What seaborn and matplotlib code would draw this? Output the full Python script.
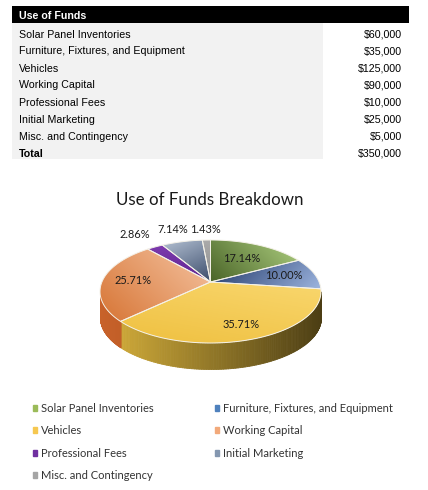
import numpy as np
import matplotlib
matplotlib.use("Agg")
import matplotlib.pyplot as plt
import seaborn as sns
from matplotlib.patches import Rectangle, Polygon
from matplotlib.colors import to_rgb

# data
categories = ["Solar Panel Inventories", "Furniture, Fixtures, and Equipment", "Vehicles",
              "Working Capital", "Professional Fees", "Initial Marketing", "Misc. and Contingency"]
amounts = [60000, 35000, 125000, 90000, 10000, 25000, 5000]
table_title = "Use of Funds"
total_label = "Total"
chart_title = "Use of Funds Breakdown"

# colours (legend / top face light + dark / side light + dark)
base_colors = ["#9BBB59", "#4F81BD", "#F6C850", "#F2A97A", "#7030A0", "#8497B0", "#A5A5A5"]
top_light = ["#AECF80", "#9DB5DF", "#F9D76E", "#F5C4A2", "#7D3AAE", "#B3C0D2", "#ABABAB"]
top_dark = ["#4A6428", "#1E3566", "#EFC040", "#D77535", "#5F2590", "#3B4C6B", "#8F8F8F"]
grad_dir = [45, -45, 80, 45, 90, 115, 90]
side_light = ["#7A963F", "#3A6094", "#D9B23C", "#C8622A", "#5A2380", "#66758A", "#808080"]
side_dark = ["#3E5020", "#1E3050", "#4C3E14", "#8A3E14", "#3A1455", "#3A4455", "#505050"]
label_r = [0.61, 0.70, 0.78, 0.72, 1.45, 1.39, 1.30]

sns.set_theme(style="white")
plt.rcParams["font.family"] = ["Lato", "DejaVu Sans"]

fig = plt.figure(figsize=(4.28, 4.90), dpi=100)
ax = fig.add_axes([0, 0, 1, 1])

# ---- table ----
tfont = dict(family="Liberation Sans", fontsize=7.7, va="center")
ax.add_patch(Rectangle((12, 6), 397, 17, color="black", lw=0))
ax.add_patch(Rectangle((12, 23), 311, 136, color="#F2F2F2", lw=0))
ax.text(19, 16, table_title, color="white", fontweight="bold", **tfont)
rows = list(zip(categories, amounts)) + [(total_label, sum(amounts))]
for i, (cat, amt) in enumerate(rows):
    y = 34.5 + 17 * i
    w = "bold" if cat == total_label else "normal"
    ax.text(19, y, cat, color="black", fontweight=w, **tfont)
    ax.text(402, y, f"${amt:,}", color="black", ha="right", **tfont)

# ---- pie (angles from matplotlib's pie, drawn with a perspective tilt) ----
wedges, _ = ax.pie(amounts, startangle=90, counterclock=False, radius=1, center=(0, 0))
angles = [(w.theta1, w.theta2) for w in wedges]
for w in wedges:
    w.remove()

CX, CY = 210.5, 282.0
A, B, C = 49.75, 0.1845, 108.6
DEPTH = 26


def project(r, th):
    t = np.radians(th)
    x, y = r * np.cos(t), r * np.sin(t)
    d = 1 + B * y
    return CX + C * x / d, CY - A * y / d


# side walls, only the visible front part
s_lo = 180 + np.degrees(np.arcsin(B))
s_hi = 360 - np.degrees(np.arcsin(B))
xl, _ = project(1, s_lo)
xr, _ = project(1, s_hi)
for i, (t1, t2) in enumerate(angles):
    for k in (-1, 0, 1, 2):
        lo, hi = max(t1 + 360 * k, s_lo), min(t2 + 360 * k, s_hi)
        if lo >= hi:
            continue
        th = np.linspace(lo, hi, 120)
        X, Y = project(1, th)
        c0, c1 = np.array(to_rgb(side_light[i])), np.array(to_rgb(side_dark[i]))
        for j in range(len(th) - 1):
            f = ((X[j] + X[j + 1]) / 2 - xl) / (xr - xl)
            col = c0 + (c1 - c0) * np.clip(f, 0, 1)
            ax.fill_between(X[j:j + 2], Y[j:j + 2], Y[j:j + 2] + DEPTH,
                            color=col, lw=0.6, edgecolor=col, zorder=2)

# top faces with a linear gradient
for i, (t1, t2) in enumerate(angles):
    th = np.linspace(t1, t2, 100)
    X, Y = project(1, th)
    verts = np.column_stack([np.r_[CX, X], np.r_[CY, Y]])
    poly = Polygon(verts, closed=True, facecolor="none", edgecolor="#F4F1E8",
                   lw=0.7, zorder=4)
    ax.add_patch(poly)
    x0, x1, y0, y1 = verts[:, 0].min(), verts[:, 0].max(), verts[:, 1].min(), verts[:, 1].max()
    gx, gy = np.meshgrid(np.linspace(x0, x1, 80), np.linspace(y0, y1, 80))
    g = np.radians(grad_dir[i])
    proj = gx * np.cos(g) - gy * np.sin(g)
    f = (proj - proj.min()) / (proj.max() - proj.min() + 1e-9)
    c0, c1 = np.array(to_rgb(top_dark[i])), np.array(to_rgb(top_light[i]))
    img = c0 + (c1 - c0) * f[..., None]
    im = ax.imshow(img, extent=(x0, x1, y1, y0), aspect="auto",
                   interpolation="bilinear", zorder=3)
    im.set_clip_path(poly)

# percentage labels
total = sum(amounts)
for i, (t1, t2) in enumerate(angles):
    lx, ly = project(label_r[i], (t1 + t2) / 2)
    ax.text(lx, ly, f"{100 * amounts[i] / total:.2f}%", ha="center", va="center",
            fontsize=7.9, color="#1A1A1A", zorder=5)

ax.text(210, 200, chart_title, ha="center", va="center", fontsize=12.2, color="#1A1A1A")

ax.set_aspect("auto")
ax.set_xlim(0, 428)
ax.set_ylim(490, 0)
ax.axis("off")

# legend, row-major order like the original
order = [0, 2, 4, 6, 1, 3, 5]
handles = [Rectangle((0, 0), 1, 1, color=base_colors[i]) for i in order]
labels = [categories[i] for i in order]
fig.legend(handles, labels, ncol=2, loc="upper left", bbox_to_anchor=(0.077, 0.178),
           frameon=False, fontsize=8, handlelength=0.4, handleheight=0.4,
           handletextpad=0.35, labelspacing=1.03, columnspacing=5.5,
           labelcolor="#333333", borderaxespad=0, borderpad=0)

fig.savefig("out.png", dpi=100)
